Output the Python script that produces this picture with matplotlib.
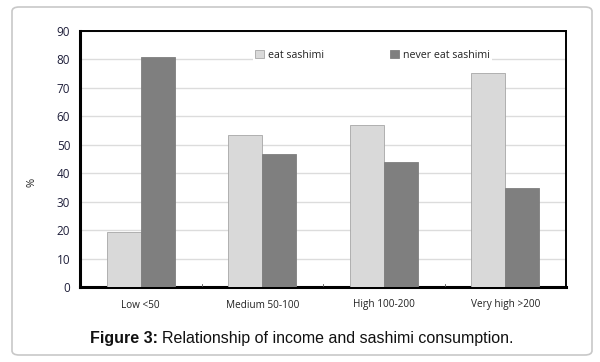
import matplotlib.pyplot as plt
import numpy as np
from matplotlib.patches import FancyBboxPatch

categories = ["Low <50", "Medium 50-100", "High 100-200", "Very high >200"]
eat = [19.2, 53.3, 57.0, 75.3]
never_eat = [80.7, 46.6, 44.1, 34.8]
yticks = list(range(0, 91, 10))

plt.rcParams["font.family"] = ["Open Sans", "DejaVu Sans"]

W, H = 600, 362
fig = plt.figure(figsize=(W / 100, H / 100), dpi=100)

# rounded outer frame, kept behind the axes
frame = FancyBboxPatch((12 / W, 7 / H), 580 / W, 348 / H,
                       boxstyle="round,pad=0,rounding_size=0.012",
                       transform=fig.transFigure, facecolor="white",
                       edgecolor="#c8c8c8", linewidth=1.2, zorder=-10)
fig.patches.append(frame)

ax = fig.add_axes([80 / W, 1 - 287 / H, 486 / W, 256 / H])
ax.set_zorder(5)
x = np.arange(len(categories))
w = 0.28
ax.bar(x - w / 2, eat, width=w, color="#d9d9d9", edgecolor="#a6a6a6",
       linewidth=0.6, label="eat sashimi", zorder=3)
ax.bar(x + w / 2, never_eat, width=w, color="#7f7f7f", edgecolor="#7f7f7f",
       linewidth=0.6, label="never eat sashimi", zorder=3)

ax.set_xlim(-0.5, len(categories) - 0.5)
ax.set_ylim(0, 90)
ax.set_yticks(yticks)
ax.set_yticklabels([str(v) for v in yticks], color="#1f1f3a", fontsize=8.5)
ax.tick_params(axis="y", length=0, pad=7)
ax.set_xticks(x)
ax.set_xticklabels(categories, fontsize=7.2, color="#222222")
ax.tick_params(axis="x", length=0, pad=9)
for b in np.arange(0.5, len(categories) - 0.5, 1):
    ax.plot([b, b], [0, 1.2], color="#555555", linewidth=0.6, zorder=4)
ax.grid(True, axis="y", color="#dcdcdc", linewidth=1.0, zorder=0)
for s in ax.spines.values():
    s.set_color("black")
    s.set_linewidth(1.4)
ax.spines["left"].set_linewidth(2.2)
ax.spines["bottom"].set_linewidth(2.2)

ax.set_ylabel("%", fontsize=8, color="#222222")
ax.yaxis.set_label_coords(-0.088, 0.41)

leg = ax.legend(loc="upper left", bbox_to_anchor=(0.345, 0.955), ncol=2,
                frameon=True, fontsize=7.7, handlelength=0.8, handleheight=0.8,
                columnspacing=6.2, handletextpad=0.4, borderpad=0.2)
leg.get_frame().set_edgecolor("none")
leg.get_frame().set_facecolor("white")
leg.get_frame().set_alpha(1)
for t in leg.get_texts():
    t.set_color("#222222")

# caption: bold label followed by regular text
cap_y = 1 - 338 / H
t1 = fig.text(90 / W, cap_y, "Figure 3:", ha="left", va="center", fontsize=11.5,
              fontweight="bold", family="Liberation Sans", color="#111111")
fig.canvas.draw()
bb = t1.get_window_extent()
fig.text((bb.x1 + 4) / W, cap_y, "Relationship of income and sashimi consumption.",
         ha="left", va="center", fontsize=11.5, family="Liberation Sans",
         color="#111111")

fig.savefig("out.png", dpi=100)
